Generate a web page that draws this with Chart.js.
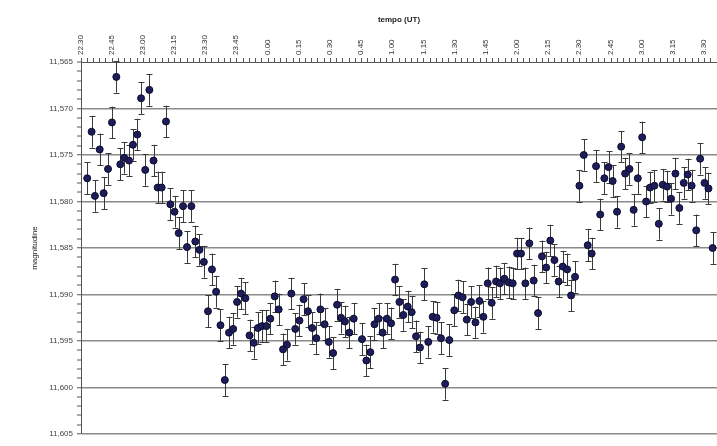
<!DOCTYPE html>
<html>
<head>
<meta charset="utf-8">
<script src="https://cdn.jsdelivr.net/npm/chart.js@4.4.1/dist/chart.umd.min.js"></script>
<style>
  html, body { margin: 0; padding: 0; background: #ffffff; }
  #wrap { width: 717px; height: 446px; position: relative; }
</style>
</head>
<body>
<div id="wrap"><canvas id="c" width="717" height="446"></canvas></div>
<script>
// Minutes after 22:30 UT
const tempoMin = [
  3, 5.1, 6.7, 9.0, 10.9, 13.0, 14.9, 17.0, 18.9, 20.8,
  23.1, 25.0, 27.1, 28.9, 30.9, 32.9, 34.9, 36.9, 38.8, 40.9,
  43.0, 45.0, 47.0, 49.1, 51.0, 53.1, 55.0, 57.0, 59.1, 61.1,
  63.0, 65.0, 67.1, 69.2, 71.2, 73.2, 75.1, 77.0, 79.1, 81.1,
  83.1, 85.1, 87.1, 89.2, 91.1, 93.2, 95.1, 97.2, 99.1, 101.2,
  103.1, 105.1, 107.1, 109.2, 111.2, 113.2, 115.2, 117.2, 119.2, 121.3,
  123.2, 125.1, 127.0, 129.1, 131.2, 135.2, 137.3, 139.2, 141.2, 143.2,
  145.1, 147.2, 149.2, 151.1, 153.2, 155.1, 157.2, 159.1, 161.2, 163.1,
  165.2, 167.1, 169.2, 171.1, 173.2, 175.2, 177.2, 179.6, 181.6, 183.6,
  185.6, 187.7, 189.8, 191.7, 193.6, 195.7, 197.6, 199.7, 201.6, 203.7,
  205.8, 207.7, 209.8, 211.7, 213.8, 215.7, 217.8, 219.9, 221.8, 223.8,
  225.8, 227.8, 229.8, 231.8, 233.9, 235.8, 237.7, 239.8, 241.9, 243.8,
  245.7, 247.8, 249.8, 251.8, 253.8, 255.8, 257.9, 259.9, 261.8, 263.9,
  265.9, 267.9, 270.0, 271.9, 273.8, 275.9, 278.0, 279.9, 282.0, 283.9,
  286.0, 287.9, 290.0, 291.9, 293.8, 296.0, 297.9, 300.0, 301.9, 303.9
];
const magnitudine = [
  11.5775, 11.5725, 11.5794, 11.5744, 11.5791, 11.5765, 11.5715, 11.5666, 11.5760, 11.5753,
  11.5756, 11.5739, 11.5728, 11.5689, 11.5766, 11.5680, 11.5756, 11.5785, 11.5785, 11.5714,
  11.5803, 11.5811, 11.5834, 11.5805, 11.5849, 11.5805, 11.5843, 11.5852, 11.5865, 11.5918,
  11.5873, 11.5897, 11.5933, 11.5992, 11.5941, 11.5937, 11.5908, 11.5899, 11.5904, 11.5944,
  11.5952, 11.5936, 11.5934, 11.5934, 11.5926, 11.5902, 11.5916, 11.5959, 11.5954, 11.5899,
  11.5937, 11.5928, 11.5905, 11.5918, 11.5936, 11.5947, 11.5916, 11.5932, 11.5951, 11.5963,
  11.5911, 11.5925, 11.5929, 11.5941, 11.5926, 11.5948, 11.5971, 11.5962, 11.5932, 11.5926,
  11.5941, 11.5926, 11.5931, 11.5884, 11.5908, 11.5922, 11.5913, 11.5919, 11.5945, 11.5957,
  11.5889, 11.5951, 11.5924, 11.5925, 11.5947, 11.5996, 11.5949, 11.5917, 11.5901, 11.5903,
  11.5927, 11.5908, 11.5930, 11.5907, 11.5924, 11.5888, 11.5909, 11.5886, 11.5888, 11.5883,
  11.5887, 11.5888, 11.5856, 11.5856, 11.5888, 11.5845, 11.5885, 11.5920, 11.5859, 11.5871,
  11.5842, 11.5863, 11.5886, 11.5870, 11.5873, 11.5901, 11.5881, 11.5783, 11.5750, 11.5847,
  11.5856, 11.5762, 11.5814, 11.5775, 11.5763, 11.5778, 11.5811, 11.5741, 11.5770, 11.5765,
  11.5809, 11.5775, 11.5731, 11.5800, 11.5785, 11.5783, 11.5824, 11.5782, 11.5784, 11.5797,
  11.5770, 11.5807, 11.5780, 11.5771, 11.5783, 11.5831, 11.5754, 11.5780, 11.5786, 11.5850
];
const erroreMag = 0.0017;
const etichetteOre = ['22.30','22.45','23.00','23.15','23.30','23.45','0.00','0.15','0.30','0.45',
  '1.00','1.15','1.30','1.45','2.00','2.15','2.30','2.45','3.00','3.15','3.30'];
const etichetteMag = ['11,565','11,570','11,575','11,580','11,585','11,590','11,595','11,600','11,605'];

const punti = tempoMin.map((t, i) => ({ x: t, y: magnitudine[i] }));

const errorBars = {
  id: 'errorBars',
  beforeDatasetsDraw(chart) {
    const ctx = chart.ctx;
    const xs = chart.scales.x, ys = chart.scales.y;
    ctx.save();
    ctx.strokeStyle = '#3a3a3a';
    ctx.lineWidth = 1;
    punti.forEach(p => {
      const px = Math.round(xs.getPixelForValue(p.x)) + 0.5;
      const y1 = ys.getPixelForValue(p.y - erroreMag);
      const y2 = ys.getPixelForValue(p.y + erroreMag);
      ctx.beginPath();
      ctx.moveTo(px, y1); ctx.lineTo(px, y2);
      ctx.moveTo(px - 3, Math.round(y1) + 0.5); ctx.lineTo(px + 3, Math.round(y1) + 0.5);
      ctx.moveTo(px - 3, Math.round(y2) + 0.5); ctx.lineTo(px + 3, Math.round(y2) + 0.5);
      ctx.stroke();
    });
    ctx.restore();
  }
};

new Chart(document.getElementById('c'), {
  type: 'scatter',
  data: {
    datasets: [{
      data: punti,
      pointRadius: 3.5,
      pointHoverRadius: 3.5,
      backgroundColor: '#1d1d5c',
      borderColor: '#0c0c2c',
      borderWidth: 1,
      clip: false
    }]
  },
  options: {
    responsive: false,
    animation: false,
    events: [],
    layout: { autoPadding: false, padding: { left: 0, right: 0, top: 0, bottom: 12 } },
    plugins: { legend: { display: false }, tooltip: { enabled: false } },
    scales: {
      x: {
        type: 'linear',
        position: 'top',
        min: 0,
        max: 306,
        afterFit(s) { s.height = 62; s.paddingLeft = 0; s.paddingRight = 0; },
        afterBuildTicks(s) {
          const t = [];
          for (let v = 0; v <= 306; v += 3) t.push({ value: v });
          s.ticks = t;
        },
        ticks: {
          autoSkip: false,
          minRotation: 90,
          maxRotation: 90,
          padding: 3,
          labelOffset: 9,
          color: '#333333',
          font: { family: 'Liberation Sans, Arial, sans-serif', size: 8 },
          callback(v) {
            const r = Math.round(v);
            if (r % 15 !== 0) return '';
            return etichetteOre[r / 15] || '';
          }
        },
        grid: { drawOnChartArea: false, tickLength: 4, tickColor: '#555555' },
        border: { color: '#555555', width: 1 },
        title: {
          display: true,
          text: 'tempo (UT)',
          color: '#222222',
          font: { family: 'Liberation Sans, Arial, sans-serif', size: 8, weight: 'bold' },
          padding: { top: 15, bottom: 0 }
        }
      },
      y: {
        type: 'linear',
        reverse: true,
        min: 11.565,
        max: 11.605,
        afterFit(s) { s.width = 81; },
        afterBuildTicks(s) {
          const t = [];
          for (let k = 0; k <= 40; k++) t.push({ value: 11.565 + k * 0.001 });
          s.ticks = t;
        },
        ticks: {
          autoSkip: false,
          padding: 4,
          color: '#444444',
          font: { family: 'Liberation Sans, Arial, sans-serif', size: 8 },
          callback(v) {
            const k = Math.round((v - 11.565) * 1000);
            if (k % 5 !== 0) return '';
            return etichetteMag[k / 5];
          }
        },
        grid: {
          tickLength: 4,
          lineWidth(c) {
            const k = Math.round((c.tick.value - 11.565) * 1000);
            return (k % 5 === 0 && k !== 0) ? 1.5 : 0;
          },
          color: '#8a8a8a',
          tickColor: '#555555',
          tickWidth: 1
        },
        border: { color: '#555555', width: 1 },
        title: {
          display: true,
          text: 'magnitudine',
          color: '#222222',
          font: { family: 'Liberation Sans, Arial, sans-serif', size: 8 },
          padding: { top: 30, bottom: 0 }
        }
      }
    }
  },
  plugins: [errorBars]
});
</script>
</body>
</html>
